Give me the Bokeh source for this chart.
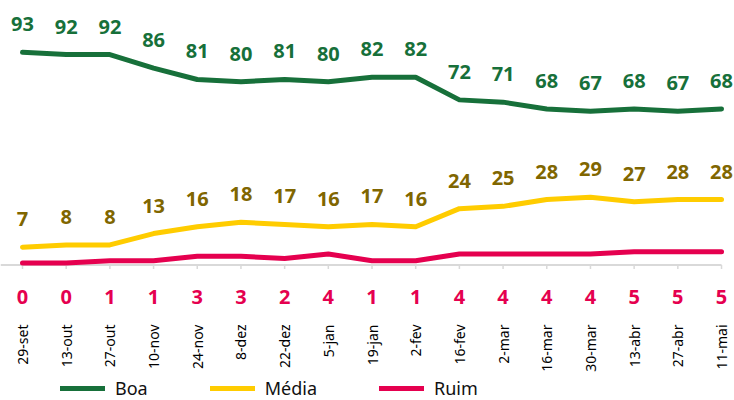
import math
from bokeh.plotting import figure
from bokeh.layouts import column
from bokeh.models import ColumnDataSource, FixedTicker, Legend, LegendItem, Range1d
from bokeh.core.properties import value
from bokeh.embed import file_html
from bokeh.resources import INLINE

dates = ["29-set", "13-out", "27-out", "10-nov", "24-nov", "8-dez", "22-dez", "5-jan", "19-jan",
         "2-fev", "16-fev", "2-mar", "16-mar", "30-mar", "13-abr", "27-abr", "11-mai"]
boa = [93, 92, 92, 86, 81, 80, 81, 80, 82, 82, 72, 71, 68, 67, 68, 67, 68]
media = [7, 8, 8, 13, 16, 18, 17, 16, 17, 16, 24, 25, 28, 29, 27, 28, 28]
ruim = [0, 0, 1, 1, 3, 3, 2, 4, 1, 1, 4, 4, 4, 4, 5, 5, 5]
series_names = ["Boa", "Média", "Ruim"]

GREEN = "#17703a"
YELLOW = "#ffcc00"
OLIVE = "#806600"
RED = "#e5004f"
FONT = "Noto Sans"

xs = list(range(len(dates)))
src = ColumnDataSource(dict(
    x=xs, boa=boa, media=media, ruim=ruim,
    boa_t=[str(v) for v in boa], media_t=[str(v) for v in media], ruim_t=[str(v) for v in ruim],
    zero=[0] * len(xs), tick_top=[-0.88] * len(xs), tick_bot=[-2.6] * len(xs),
))

p = figure(width=734, height=374, output_backend="svg", toolbar_location=None,
           x_range=Range1d(-0.5036, 16.297), y_range=Range1d(-21.4, 115.86),
           min_border_left=0, min_border_right=0, min_border_top=0, min_border_bottom=0)
p.outline_line_color = None
p.grid.visible = False
p.yaxis.visible = False

# baseline axis line and ticks
p.line(x=[-0.5036, 16.0], y=[-0.88, -0.88], line_color="#d9d9d9", line_width=2)
p.segment(x0="x", y0="tick_top", x1="x", y1="tick_bot", source=src, line_color="#d9d9d9", line_width=1.5)

line_kw = dict(source=src, line_width=5, line_join="round", line_cap="round")
p.line("x", "boa", line_color=GREEN, **line_kw)
p.line("x", "media", line_color=YELLOW, **line_kw)
p.line("x", "ruim", line_color=RED, **line_kw)

common = dict(source=src, text_font=value(FONT), text_font_style="bold", text_font_size="20px",
              text_align="center", text_baseline="middle")
p.text(x="x", y="boa", text="boa_t", text_color=GREEN, y_offset=-28, **common)
p.text(x="x", y="media", text="media_t", text_color=OLIVE, y_offset=-28, **common)
p.text(x="x", y="zero", text="ruim_t", text_color=RED, y_offset=34, **common)

xa = p.xaxis[0]
xa.ticker = FixedTicker(ticks=xs)
xa.major_label_overrides = {i: d for i, d in enumerate(dates)}
xa.major_label_orientation = math.pi / 2
xa.axis_line_color = None
xa.major_tick_line_color = None
xa.minor_tick_line_color = None
xa.major_tick_out = 0
xa.major_tick_in = 0
xa.major_label_standoff = 13
xa.major_label_text_font = FONT
xa.major_label_text_font_size = "14px"
xa.major_label_text_color = "#000000"

# legend strip
lg = figure(width=734, height=26, output_backend="svg", toolbar_location=None,
            x_range=Range1d(0, 734), y_range=Range1d(0, 26),
            min_border_left=0, min_border_right=0, min_border_top=0, min_border_bottom=0)
lg.outline_line_color = None
lg.grid.visible = False
lg.axis.visible = False
dummy = ColumnDataSource(dict(x=[-100, -90], y=[-100, -100]))
rends = [lg.line("x", "y", source=dummy, line_color=c, line_width=5, line_cap="round")
         for c in (GREEN, YELLOW, RED)]
legend = Legend(items=[LegendItem(label=n, renderers=[r]) for n, r in zip(series_names, rends)],
                orientation="horizontal", location=(60, 0), margin=0, padding=2,
                glyph_width=45, glyph_height=20, label_standoff=10, spacing=62,
                label_text_font=FONT, label_text_font_size="18px", label_text_color="#111111",
                border_line_color=None, background_fill_alpha=0)
lg.add_layout(legend, "center")

open("out.html", "w").write(file_html(column(p, lg), INLINE))
